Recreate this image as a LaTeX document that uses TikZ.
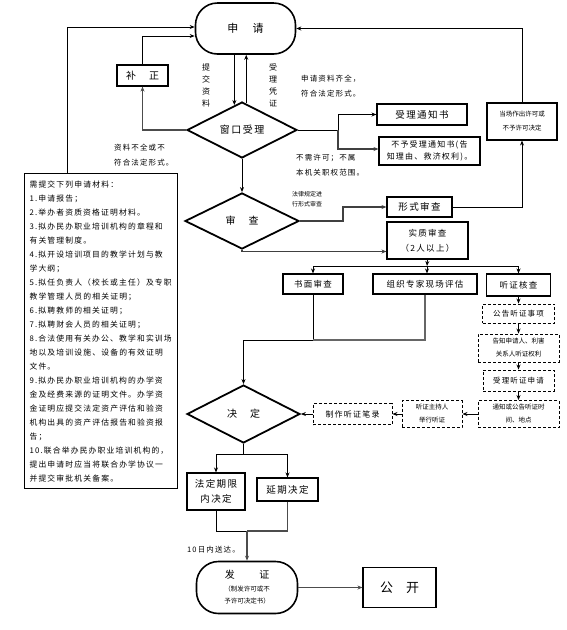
\documentclass[tikz,border=0pt]{standalone}
\usepackage{fontspec}
\setmainfont{Noto Sans CJK SC}
\newfontfamily\lsp[LetterSpace=15]{Noto Sans CJK SC}
\usetikzlibrary{shapes.geometric,arrows.meta}
\begin{document}
\begin{tikzpicture}[x=1pt,y=-1pt,
  box/.style={draw,line width=1.1pt,inner sep=0pt,align=center,font=\lsp\fontsize{8.5}{12}\selectfont},
  dbox/.style={box,line width=0.9pt,dash pattern=on 3pt off 2pt},
  dia/.style={draw,diamond,line width=1.8pt,inner sep=0pt,align=center,font=\lsp\fontsize{10}{12}\selectfont},
  term/.style={draw,line width=1.6pt,rounded corners=22pt,inner sep=0pt,align=center},
  lbl/.style={inner sep=0pt,align=left,font=\lsp\fontsize{7.5}{15}\selectfont},
  arr/.style={-{Stealth[length=5pt,width=4pt]},line width=0.8pt},
  ln/.style={line width=0.8pt}]
\useasboundingbox (0,0) rectangle (566,630);
% nodes
\node[term,minimum width=100,minimum height=51,font=\lsp\fontsize{11}{13}\selectfont] (sq) at (245.5,28.5) {申　请};
\node[box,minimum width=51,minimum height=21,font=\lsp\fontsize{10}{12}\selectfont] (bz) at (142.5,75.5) {补　正};
\node[dia,minimum width=110,minimum height=56] (ck) at (242,130) {窗口受理};
\node[box,minimum width=90,minimum height=21,font=\lsp\fontsize{9.5}{12}\selectfont] (sltz) at (422,114.5) {受理通知书};
\node[box,minimum width=101,minimum height=28,font=\lsp\fontsize{8}{12}\selectfont] (bysl) at (429.5,151) {不予受理通知书(告\\知理由、救济权利)。};
\node[box,minimum width=70,minimum height=37,font=\fontsize{6.5}{14}\selectfont] (dc) at (522,121.5) {当场作出许可或\\不予许可决定};
\node[dia,minimum width=114,minimum height=56] (sc) at (242,221) {审　查};
\node[box,minimum width=65,minimum height=20,font=\lsp\fontsize{9.5}{12}\selectfont] (xs) at (419.5,207) {形式审查};
\node[box,minimum width=81,minimum height=37,font=\lsp\fontsize{8.5}{15}\selectfont] (sz) at (427.5,240.5) {实质审查\\（2人以上）};
\node[box,minimum width=60,minimum height=20] (sm) at (313,284) {书面审查};
\node[box,minimum width=104,minimum height=20] (zz) at (425,284) {组织专家现场评估};
\node[box,minimum width=64,minimum height=22] (tz) at (518.5,285) {听证核查};
\node[dbox,minimum width=72,minimum height=19,font=\lsp\fontsize{7.5}{12}\selectfont] (gg) at (518.5,313.5) {公告听证事项};
\node[dbox,minimum width=81,minimum height=28,font=\fontsize{6.5}{13}\selectfont] (gz) at (518.5,348) {告知申请人、利害\\关系人听证权利};
\node[dbox,minimum width=71,minimum height=21,font=\lsp\fontsize{7.5}{12}\selectfont] (slt) at (518.5,380.5) {受理听证申请};
\node[dbox,minimum width=81,minimum height=27,font=\fontsize{6.5}{13}\selectfont] (tzg) at (518.5,414) {通知或公告听证时\\间、地点};
\node[dbox,minimum width=60,minimum height=27,font=\fontsize{6.5}{13}\selectfont] (zcr) at (432,414) {听证主持人\\举行听证};
\node[dbox,minimum width=79,minimum height=21,font=\lsp\fontsize{8}{12}\selectfont] (zb) at (352.5,414) {制作听证笔录};
\node[dia,minimum width=113,minimum height=58] (jd) at (243.5,414) {决　定};
\node[box,minimum width=58,minimum height=37,font=\lsp\fontsize{9.5}{15}\selectfont] (fd) at (216,491.5) {法定期限\\内决定};
\node[box,minimum width=61,minimum height=23,font=\lsp\fontsize{9.5}{12}\selectfont] (yq) at (287.5,489.5) {延期决定};
\node[term,minimum width=101,minimum height=52] (fz) at (247,587.5) {{\lsp\fontsize{10}{12}\selectfont 发　　证}\\[1pt]{\fontsize{6.5}{9}\selectfont （制发许可或不}\\{\fontsize{6.5}{9}\selectfont 予许可决定书）}};
\node[box,minimum width=73,minimum height=40,font=\fontsize{13}{15}\selectfont] (gk) at (399.5,587.5) {公　开};
\node[draw,line width=1.1pt,anchor=north west,minimum width=153,minimum height=315,text width=143,inner xsep=5pt,inner ysep=4pt,align=left,font=\lsp\fontsize{7.8}{14}\selectfont] (lt) at (24,173) {需提交下列申请材料：\\
1.申请报告；\\
2.举办者资质资格证明材料。\\
3.拟办民办职业培训机构的章程和\\
有关管理制度。\\
4.拟开设培训项目的教学计划与教\\
学大纲；\\
5.拟任负责人（校长或主任）及专职\\
教学管理人员的相关证明；\\
6.拟聘教师的相关证明；\\
7.拟聘财会人员的相关证明；\\
8.合法使用有关办公、教学和实训场\\
地以及培训设施、设备的有效证明\\
文件。\\
9.拟办民办职业培训机构的办学资\\
金及经费来源的证明文件。办学资\\
金证明应提交法定资产评估和验资\\
机构出具的资产评估报告和验资报\\
告；\\
10.联合举办民办职业培训机构的，\\
提出申请时应当将联合办学协议一\\
并提交审批机关备案。};
% labels
\node[lbl,font=\fontsize{8}{12}\selectfont,align=center] (l1) at (206,85) {提\\交\\资\\料};
\node[lbl,font=\fontsize{8}{12}\selectfont,align=center] (l2) at (273,85) {受\\理\\凭\\证};
\node[lbl,anchor=west] (l3) at (301,86) {申请资料齐全，\\符合法定形式。};
\node[lbl,anchor=west] (l4) at (296,165.5) {不需许可；不属\\本机关职权范围。};
\node[lbl,anchor=west] (l5) at (114,155) {资料不全或不\\符合法定形式。};
\node[lbl,anchor=west,font=\fontsize{6}{10}\selectfont] (l6) at (292,199) {法律规定进\\行形式审查};
\node[lbl,anchor=west] (l7) at (187,550) {10日内送达。};
% connectors
\coordinate (ltTop) at (67,173);
\draw[arr] (ltTop) |- ([yshift=1.5pt]sq.west);
\draw[arr] (bz.north) |- ([yshift=-7.5pt]sq.west);
\draw[arr] (ck.107 |- sq.south) -- (ck.107);
\draw[arr] (ck.81) -- (ck.81 |- sq.south);
\draw[arr,line width=1.4pt,draw=black!70] (ck.west) -| (bz.south);
\coordinate (b1) at (338,130);
\draw[ln] (ck.east) -- (b1);
\draw[arr] (b1) |- (sltz.west);
\draw[arr,draw=black!75,line width=1.2pt] (b1) |- ([yshift=2pt]bysl.west);
\draw[arr] (dc.north) |- (sq.east);
\draw[arr] (xs.east) -| (dc.south);
\draw[arr] (ck.south) -- (sc.north);
\coordinate (b2) at (343,221);
\draw[arr,draw=black!75,line width=1.2pt] (sc.east) -- (b2) |- (xs.west);
\draw[arr,draw=black!75,line width=1.2pt] (sc.south) |- ([yshift=-11pt]sz.west);
\coordinate (b3) at (427,266);
\draw[arr] (sz.south) -- (b3);
\draw[arr] (b3) -| (sm.north);
\draw[arr] (b3) -| (tz.north);
\draw[arr] (b3) -- (b3 |- zz.north);
\coordinate (b4) at (313,340);
\draw[ln] (sm.south) -- (b4);
\draw[arr] (b4) -| (jd.north);
\draw[ln,draw=black!60,line width=1.2pt] (zz.south) |- (b4);
\draw[arr] (tz.south) -- (gg.north);
\draw[arr] (gg.south) -- (gz.north);
\draw[arr] (gz.south) -- (slt.north);
\draw[arr] (slt.south) -- (tzg.north);
\draw[arr] (tzg.west) -- (zcr.east);
\draw[arr] (zcr.west) -- (zb.east);
\draw[arr] (zb.west) -- (jd.east);
\coordinate (b5) at (243.5,454);
\draw[ln] (jd.south) -- (b5);
\draw[arr] (b5) -| (fd.north);
\draw[arr] (b5) -| (yq.north);
\coordinate (b6) at (247,531);
\draw[ln] (fd.south) |- (b6);
\draw[ln,draw=black!70,line width=1.1pt] (yq.south) |- (b6);
\draw[arr,draw=black!70,line width=1.1pt] (b6) -- (fz.north);
\draw[arr,draw=black!70,line width=1.1pt] (fz.east) -- (gk.west);
\end{tikzpicture}
\end{document}
